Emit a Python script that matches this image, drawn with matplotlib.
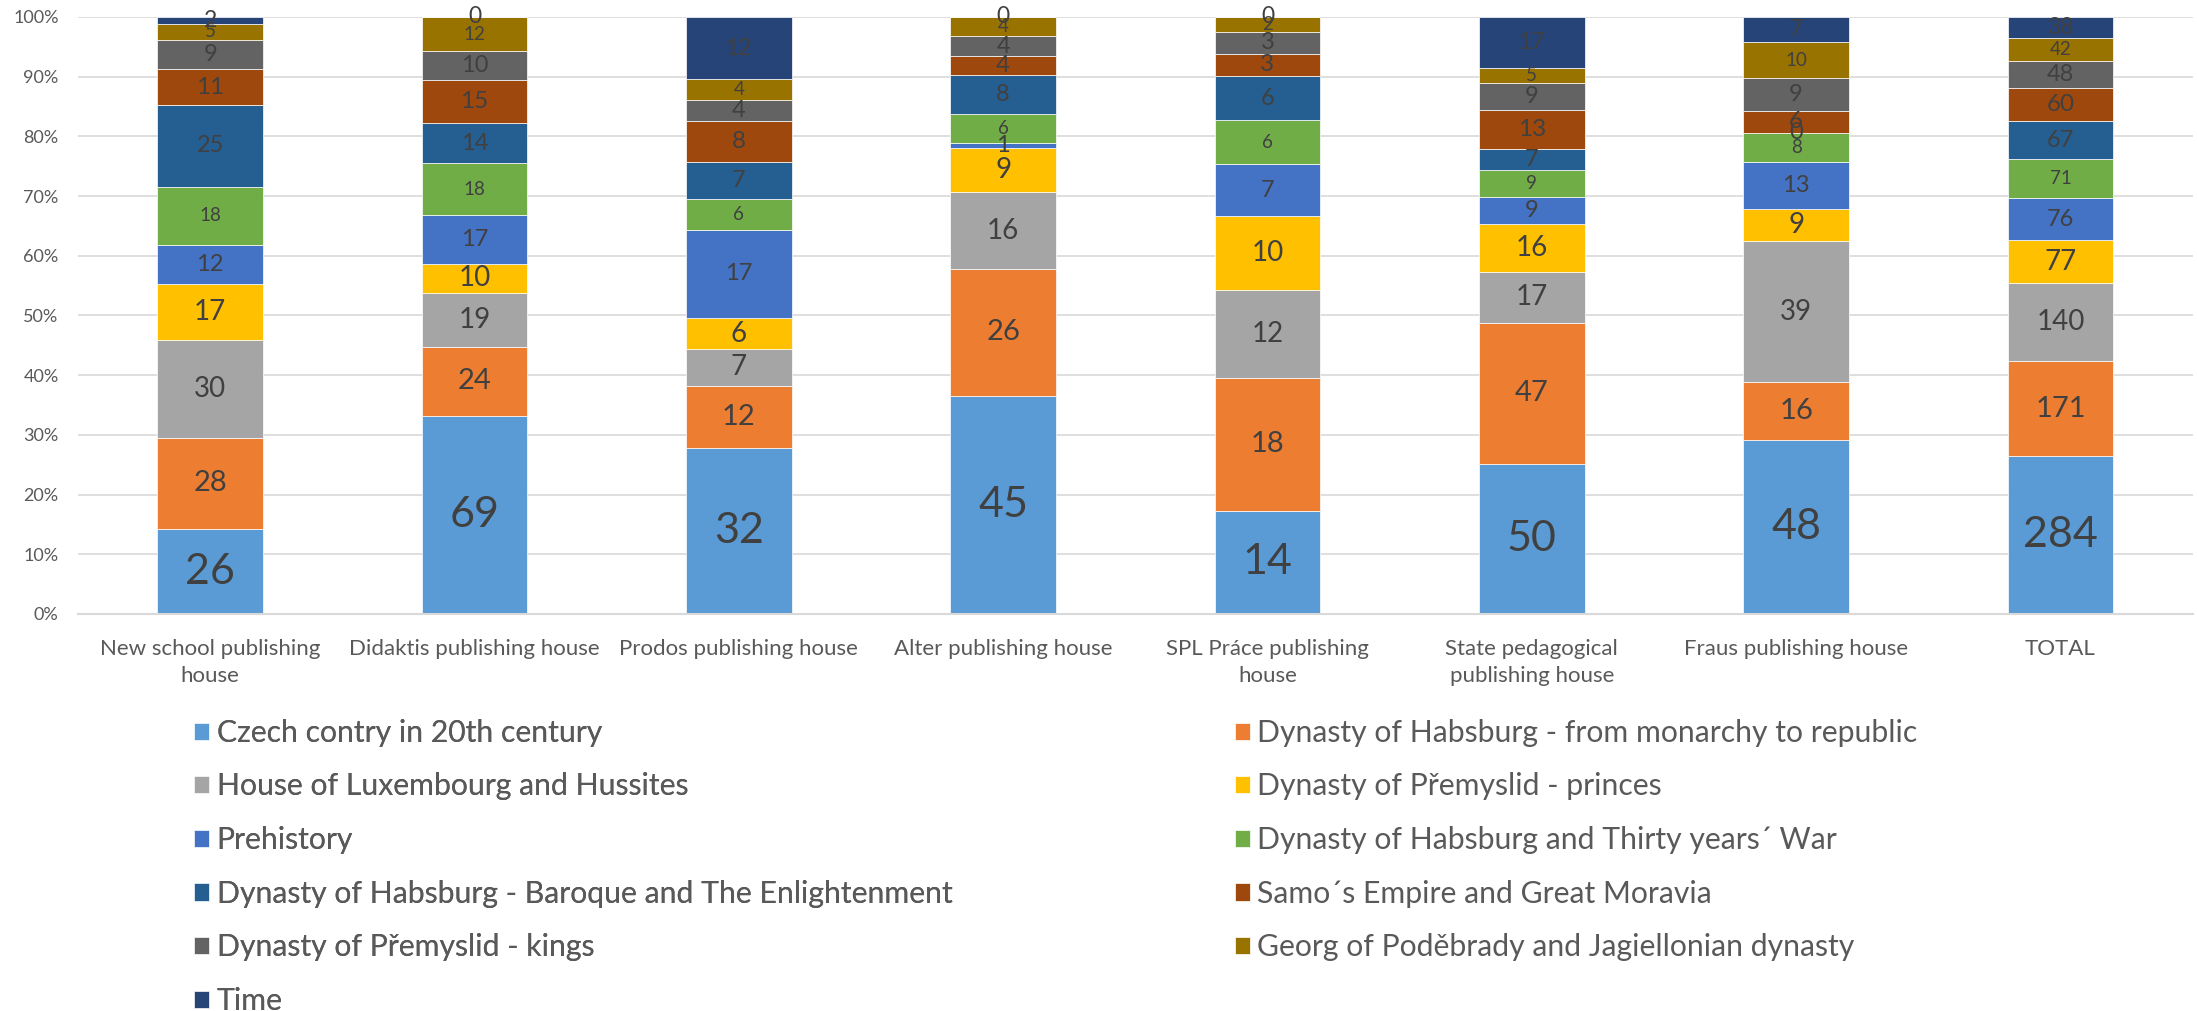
"""Stacked 100% bar chart: history topics in textbooks by publishing house."""

import numpy as np
import matplotlib
matplotlib.use("Agg")
import matplotlib.pyplot as plt
import matplotlib.ticker as ticker

plt.rcParams["font.family"] = ["Lato", "DejaVu Sans"]

publishers = [
    "New school publishing\nhouse",
    "Didaktis publishing house",
    "Prodos publishing house",
    "Alter publishing house",
    "SPL Práce publishing\nhouse",
    "State pedagogical\npublishing house",
    "Fraus publishing house",
    "TOTAL",
]

topics = [
    "Czech contry in 20th century",
    "Dynasty of Habsburg - from monarchy to republic",
    "House of Luxembourg and Hussites",
    "Dynasty of Přemyslid - princes",
    "Prehistory",
    "Dynasty of Habsburg and Thirty years´ War",
    "Dynasty of Habsburg - Baroque and The Enlightenment",
    "Samo´s Empire and Great Moravia",
    "Dynasty of Přemyslid - kings",
    "Georg of Poděbrady and Jagiellonian dynasty",
    "Time",
]

# counts per topic, one value per publisher (same order as publishers)
czech_20th = [26, 69, 32, 45, 14, 50, 48, 284]
habsburg_republic = [28, 24, 12, 26, 18, 47, 16, 171]
luxembourg_hussites = [30, 19, 7, 16, 12, 17, 39, 140]
premyslid_princes = [17, 10, 6, 9, 10, 16, 9, 77]
prehistory = [12, 17, 17, 1, 7, 9, 13, 76]
habsburg_thirty_years = [18, 18, 6, 6, 6, 9, 8, 71]
habsburg_baroque = [25, 14, 7, 8, 6, 7, 0, 67]
samo_moravia = [11, 15, 8, 4, 3, 13, 6, 60]
premyslid_kings = [9, 10, 4, 4, 3, 9, 9, 48]
podebrady_jagiellon = [5, 12, 4, 4, 2, 5, 10, 42]
time_topic = [2, 0, 12, 0, 0, 17, 7, 38]

series = [czech_20th, habsburg_republic, luxembourg_hussites, premyslid_princes,
          prehistory, habsburg_thirty_years, habsburg_baroque, samo_moravia,
          premyslid_kings, podebrady_jagiellon, time_topic]

colors = ["#5B9BD5", "#ED7D31", "#A5A5A5", "#FFC000", "#4472C4", "#70AD47",
          "#255E91", "#9E480E", "#636363", "#997300", "#264478"]

# label size differs per series in the original
label_sizes = [31, 21, 20, 20, 17, 13.5, 17, 17.5, 17, 13.5, 16.5]

counts = np.array(series, dtype=float)
shares = counts / counts.sum(axis=0) * 100

fig = plt.figure(figsize=(21.97, 10.11), dpi=100)
ax = fig.add_axes([0.0355, 0.3927, 0.9625, 0.5905])

x = np.arange(len(publishers))
bottom = np.zeros(len(publishers))
handles = []
for i, name in enumerate(topics):
    bars = ax.bar(x, shares[i], 0.4, bottom=bottom, color=colors[i],
                  edgecolor="white", linewidth=0.5, label=name, zorder=2)
    ax.bar_label(bars, labels=[str(int(v)) for v in counts[i]],
                 label_type="center", fontsize=label_sizes[i], color="#404040")
    bottom += shares[i]
    handles.append(bars)

ax.set_xlim(-0.5, len(publishers) - 0.5)
ax.set_ylim(0, 100)
ax.yaxis.set_major_locator(ticker.MultipleLocator(10))
ax.yaxis.set_major_formatter(ticker.FuncFormatter(lambda v, _p: f"{v:.0f}%"))
ax.set_xticks(x)
ax.set_xticklabels(publishers, fontsize=16, color="#595959", linespacing=1.45)
ax.tick_params(axis="y", labelsize=13, labelcolor="#595959", length=0, pad=14)
ax.tick_params(axis="x", length=0, pad=18)
ax.grid(True, axis="y", color="#D9D9D9", linewidth=1.2, zorder=0)
for side in ["top", "right", "left"]:
    ax.spines[side].set_visible(False)
ax.spines["bottom"].set_color("#D9D9D9")
ax.spines["bottom"].set_linewidth(1.5)

# legend is read row by row: even items on the left, odd items on the right
leg_opts = dict(loc="upper left", frameon=False, fontsize=21.7, borderpad=0,
                borderaxespad=0, handlelength=0.5, handleheight=0.5,
                handletextpad=0.25, labelspacing=0.85, labelcolor="#595959")
left = fig.legend(handles[0::2], topics[0::2], bbox_to_anchor=(0.0883, 0.289),
                  **leg_opts)
fig.add_artist(left)
fig.legend(handles[1::2], topics[1::2], bbox_to_anchor=(0.562, 0.289), **leg_opts)

fig.savefig("out.png", dpi=100)
plt.close(fig)
